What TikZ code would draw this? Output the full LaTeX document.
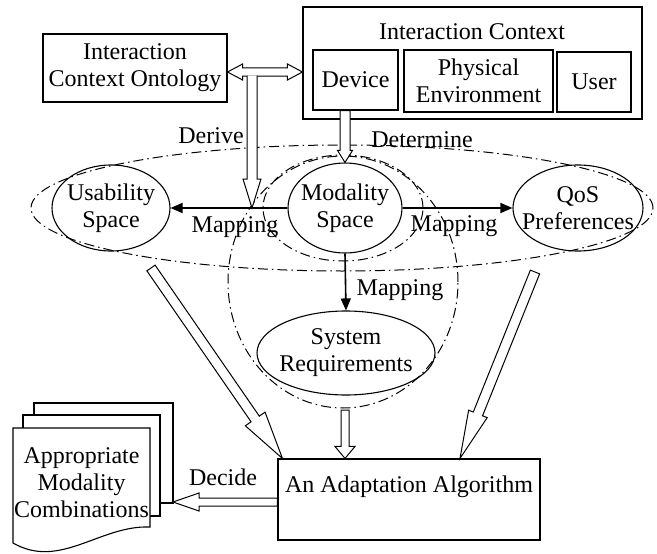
\documentclass[tikz,border=0pt]{standalone}
\usepackage{fontspec}
\setmainfont{Liberation Serif}
\usetikzlibrary{arrows.meta, calc, shapes.geometric}

% hollow arrow: [end of path]{start}{tip}{shaft half width}{head half width}{head length}
\newcommand{\hollowarrow}[6][-- cycle]{%
  \draw[hollow] ($(#2)!#4!90:(#3)$)
    -- ($($(#3)!#6!(#2)$)!#4!90:(#3)$)
    -- ($($(#3)!#6!(#2)$)!#5!90:(#3)$)
    -- (#3)
    -- ($($(#3)!#6!(#2)$)!#5!-90:(#3)$)
    -- ($($(#3)!#6!(#2)$)!#4!-90:(#3)$)
    -- ($(#2)!#4!-90:(#3)$) #1;}
% hollow arrow with two heads
\newcommand{\hollowdblarrow}[5]{%
  \draw[hollow] (#1)
    -- ($($(#1)!#5!(#2)$)!#4!90:(#2)$)
    -- ($($(#1)!#5!(#2)$)!#3!90:(#2)$)
    -- ($($(#2)!#5!(#1)$)!#3!-90:(#1)$)
    -- ($($(#2)!#5!(#1)$)!#4!-90:(#1)$)
    -- (#2)
    -- ($($(#2)!#5!(#1)$)!#4!90:(#1)$)
    -- ($($(#2)!#5!(#1)$)!#3!90:(#1)$)
    -- ($($(#1)!#5!(#2)$)!#3!-90:(#2)$)
    -- ($($(#1)!#5!(#2)$)!#4!-90:(#2)$) -- cycle;}

\begin{document}
\begin{tikzpicture}[x=1pt, y=-1pt,
  every node/.style={font=\fontsize{24}{27}\selectfont},
  box/.style={draw, line width=1.1pt, inner sep=0pt},
  space/.style={draw, ellipse, line width=1.1pt, inner xsep=-14pt, inner ysep=0pt, align=center},
  group/.style={line width=1pt, dash pattern=on 10pt off 4pt on 1.5pt off 4pt},
  maparrow/.style={line width=1.6pt, -{Triangle[length=12pt, width=10pt]}},
  hollow/.style={draw, fill=white, line width=1pt, line join=miter}]

  \useasboundingbox (0,0) rectangle (657,554);

  % dash-dot groups
  \draw[group] (342,208) ellipse [x radius=311pt, y radius=63pt];
  \draw[group] (343,282) ellipse [x radius=115pt, y radius=126pt];
  \draw[group] (343,208) ellipse [x radius=80pt, y radius=53pt];

  \node[box, minimum width=184pt, minimum height=68pt, align=center] (onto) at (135,68) {Interaction\\Context Ontology};
  \node[box, minimum width=339pt, minimum height=112pt] (ctx) at (472.5,63) {};
  \node[anchor=base] (ctxtitle) at (472,39) {Interaction Context};
  \node[box, minimum width=85pt, minimum height=60pt] (dev) at (355.5,80) {Device};
  \node[box, minimum width=149pt, minimum height=62pt, align=center] (phys) at (478.5,81) {Physical\\Environment};
  \node[box, minimum width=74pt, minimum height=60pt] (user) at (594,82) {User};

  \node[space, minimum width=118pt, minimum height=86pt] (use) at (111,208) {Usability\\Space};
  \node[space, minimum width=114pt, minimum height=90pt] (mod) at (345,208) {Modality\\Space};
  \node[space, minimum width=130pt, minimum height=86pt] (qos) at (578,208) {QoS\\Preferences};
  \node[space, minimum width=178pt, minimum height=84pt] (sys) at (346,353) {System\\Requirements};

  \node[box, minimum width=262pt, minimum height=81pt, text height=17pt, text depth=32pt] (algo) at (409,499.5) {An Adaptation Algorithm};

  % stack of documents
  \draw[box, fill=white] (34,403) rectangle (173,503);
  \draw[box, fill=white] (23,415) rectangle (160,516);
  \draw[box, fill=white] (13,428) -- (150,428) -- (150,527) .. controls (100,525) and (60,570) .. (13,543) -- cycle;
  \node[align=center] (combo) at (81.5,483) {Appropriate\\Modality\\Combinations};

  % hollow arrows
  \coordinate (ontoR) at ([yshift=-4pt]onto.east);
  \coordinate (ctxL) at (ontoR -| ctx.west);
  \hollowdblarrow{ontoR}{ctxL}{4.2pt}{8pt}{15pt}
  \coordinate (junc) at (252,75.5);
  \coordinate (deriveTip) at (junc |- use.east);
  \hollowarrow[]{junc}{deriveTip}{5pt}{9pt}{29pt}
  \coordinate (devOut) at (dev.south -| mod.north);
  \hollowarrow{devOut}{mod.north}{5pt}{7.5pt}{12pt}
  \coordinate (useOut) at (151,268);
  \coordinate (algoIn1) at ([xshift=5pt]algo.north west);
  \hollowarrow{useOut}{algoIn1}{5pt}{12pt}{48pt}
  \coordinate (qosOut) at (535,272);
  \coordinate (algoIn2) at ([xshift=51pt]algo.north);
  \hollowarrow{qosOut}{algoIn2}{5pt}{10pt}{48pt}
  \coordinate (sysOut) at (345,410);
  \coordinate (algoIn3) at (sysOut |- algo.north);
  \hollowarrow{sysOut}{algoIn3}{4pt}{10pt}{12pt}
  \coordinate (algoOut) at ([yshift=-2.5pt]algo.west);
  \coordinate (stackR) at (173,502);
  \hollowarrow{algoOut}{stackR}{4pt}{9pt}{26pt}

  % mapping arrows
  \draw[maparrow] (mod.west) -- (use.east);
  \draw[maparrow] (mod.east) -- (qos.west);
  \draw[maparrow] (mod.south) -- (sys.north);

  \node[anchor=base] (map1) at (235,232) {Mapping};
  \node[anchor=base] (map2) at (454,231) {Mapping};
  \node[anchor=base] (map3) at (400,295) {Mapping};
  \node[anchor=base] (derive) at (211,143) {Derive};
  \node[anchor=base] (determine) at (422,147) {Determine};
  \node[anchor=base] (decide) at (223,485) {Decide};

\end{tikzpicture}
\end{document}
